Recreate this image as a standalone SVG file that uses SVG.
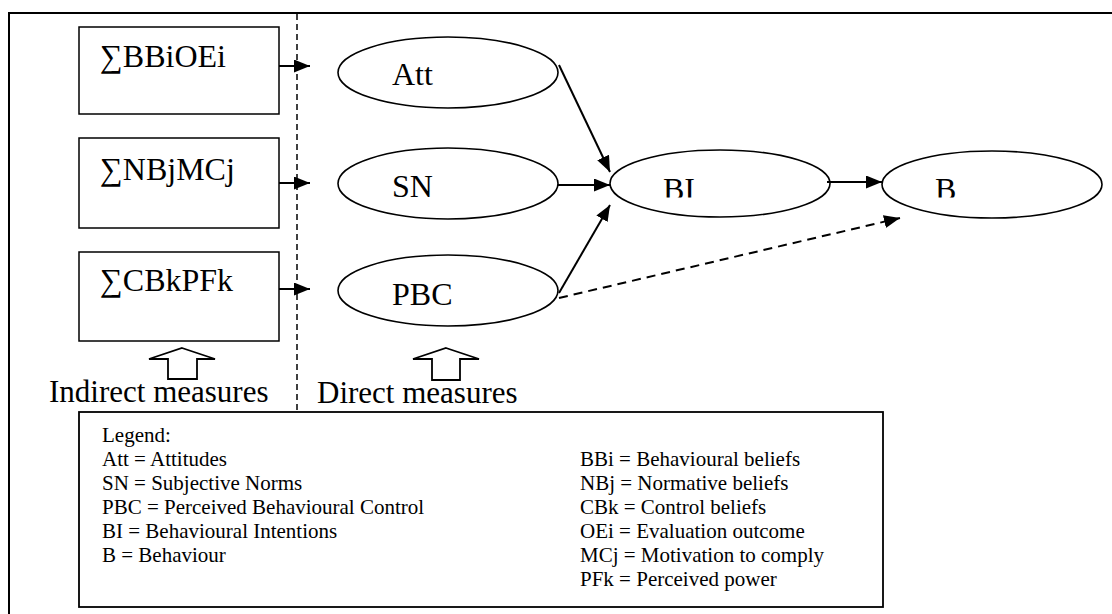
<svg xmlns="http://www.w3.org/2000/svg" width="1112" height="614" viewBox="0 0 1112 614">
<style>
.t{font-family:"Liberation Serif","Times New Roman",serif;fill:#000}
.n{font-size:32px}
.m{font-size:31px}
.lg{font-size:21px}
.box{fill:#fff;stroke:#000;stroke-width:1.5}
.el{fill:#fff;stroke:#000;stroke-width:1.6}
.c{stroke:#000;stroke-width:2;fill:none}
.d{stroke:#000;stroke-width:2;fill:none;stroke-dasharray:9 6}
.hollow{fill:#fff;stroke:#000;stroke-width:1.8}
</style>
<defs>
<marker id="ah" markerUnits="userSpaceOnUse" markerWidth="17" markerHeight="14" refX="16" refY="6.5" orient="auto">
<path d="M0,0 L16,6.5 L0,13 z" fill="#000"/>
</marker>
<clipPath id="clipBI"><rect x="600" y="150" width="500" height="47.5"/></clipPath>
</defs>
<rect width="1112" height="614" fill="#fff"/>
<rect x="9" y="13" width="1200" height="700" fill="none" stroke="#000" stroke-width="2"/>
<line x1="297" y1="14" x2="297" y2="411" stroke="#000" stroke-width="1.5" stroke-dasharray="6 4"/>

<g id="box-bbioei"><rect class="box" x="79" y="27" width="200" height="87"/><text class="t n" x="100" y="67">∑BBiOEi</text></g>
<g id="box-nbjmcj"><rect class="box" x="79" y="138" width="200" height="90"/><text class="t n" x="100" y="180">∑NBjMCj</text></g>
<g id="box-cbkpfk"><rect class="box" x="79" y="252" width="200" height="89"/><text class="t n" x="100" y="291">∑CBkPFk</text></g>

<g id="node-att"><ellipse class="el" cx="448" cy="72.5" rx="110" ry="35.5"/><text class="t n" x="392" y="85">Att</text></g>
<g id="node-sn"><ellipse class="el" cx="448" cy="183.5" rx="110" ry="35.5"/><text class="t n" x="392" y="197">SN</text></g>
<g id="node-pbc"><ellipse class="el" cx="448" cy="290.5" rx="110" ry="35.5"/><text class="t n" x="392" y="305">PBC</text></g>
<g id="node-bi"><ellipse class="el" cx="720" cy="183.5" rx="110" ry="33.5"/><text class="t n" x="663" y="200" clip-path="url(#clipBI)">BI</text></g>
<g id="node-b"><ellipse class="el" cx="992" cy="184.5" rx="110" ry="33.5"/><text class="t n" x="935" y="200" clip-path="url(#clipBI)">B</text></g>

<g id="connectors">
<line class="c" x1="279" y1="66" x2="310" y2="66" marker-end="url(#ah)"/>
<line class="c" x1="279" y1="183" x2="310" y2="183" marker-end="url(#ah)"/>
<line class="c" x1="279" y1="289" x2="310" y2="289" marker-end="url(#ah)"/>
<line class="c" x1="559" y1="65" x2="610" y2="172" marker-end="url(#ah)"/>
<line class="c" x1="558" y1="185" x2="610" y2="185" marker-end="url(#ah)"/>
<line class="c" x1="559" y1="293" x2="610" y2="205" marker-end="url(#ah)"/>
<line class="c" x1="827" y1="182" x2="882" y2="182" marker-end="url(#ah)"/>
<line class="d" x1="559" y1="298" x2="900" y2="218" marker-end="url(#ah)"/>
</g>

<g id="indirect-label">
<polygon class="hollow" points="182,348 215,359 197,359 197,379 168,379 168,359 149,359"/>
<text class="t m" x="49" y="402">Indirect measures</text>
</g>
<g id="direct-label">
<polygon class="hollow" points="446,348 479,359 460,359 460,380 432,380 432,359 413,359"/>
<text class="t m" x="317" y="403">Direct measures</text>
</g>

<g id="legend">
<rect x="79" y="412" width="804" height="195" fill="#fff" stroke="#000" stroke-width="1.8"/>
<text class="t lg" x="102" y="442">Legend:</text>
<text class="t lg" x="102" y="466">Att = Attitudes</text>
<text class="t lg" x="102" y="490">SN = Subjective Norms</text>
<text class="t lg" x="102" y="514">PBC = Perceived Behavioural Control</text>
<text class="t lg" x="102" y="538">BI = Behavioural Intentions</text>
<text class="t lg" x="102" y="562">B = Behaviour</text>
<text class="t lg" x="580" y="466">BBi = Behavioural beliefs</text>
<text class="t lg" x="580" y="490">NBj = Normative beliefs</text>
<text class="t lg" x="580" y="514">CBk = Control beliefs</text>
<text class="t lg" x="580" y="538">OEi = Evaluation outcome</text>
<text class="t lg" x="580" y="562">MCj = Motivation to comply</text>
<text class="t lg" x="580" y="586">PFk = Perceived power</text>
</g>
</svg>
